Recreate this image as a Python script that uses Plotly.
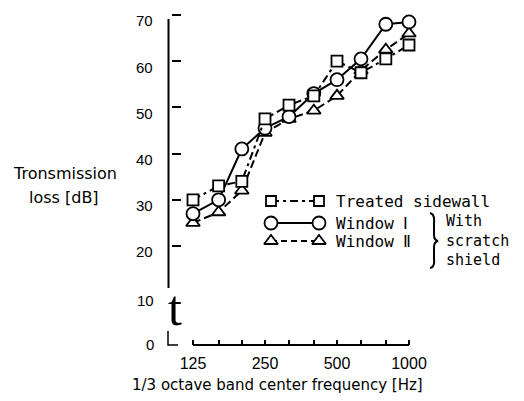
import plotly.graph_objects as go

# ---- data ----
freq = [125, 160, 200, 250, 315, 400, 500, 630, 800, 1000]
treated_sidewall = [30, 33, 34, 47.5, 50.5, 52.5, 60, 57.5, 60.5, 63.5]
window_1 = [27, 30, 41, 45.5, 48, 53, 56, 60.5, 68, 68.5]
window_2 = [25, 27.3, 32, 44.5, 47.5, 49.3, 52.5, 58, 62.5, 66]
x_tick_text = ["125", "", "", "250", "", "", "500", "", "", "1000"]
y_ticks = [20, 30, 40, 50, 60, 70]
y_break_labels = ["10", "0"]

W, H = 524, 401
PL, PR, PT, PB = 172, 420, 10, 345   # plot area in pixels

BLACK = "black"
TICKFONT = dict(family="Liberation Sans, Arial, sans-serif", size=15, color=BLACK)
XTICKFONT = dict(family="Liberation Sans, Arial, sans-serif", size=16, color=BLACK)
LEGFONT = dict(family="DejaVu Sans Mono, monospace", size=16, color=BLACK)
NOTEFONT = dict(family="DejaVu Sans Mono, monospace", size=15, color=BLACK)
TITLEFONT = dict(family="DejaVu Sans, sans-serif", size=16, color=BLACK)

fig = go.Figure()

def marker(sym, size):
    return dict(symbol=sym, size=size, color="white",
                line=dict(color=BLACK, width=1.8))

fig.add_trace(go.Scatter(x=freq, y=window_2, mode="lines+markers",
                         line=dict(color=BLACK, width=2, dash="8px,4px"),
                         marker=marker("triangle-up", 12), cliponaxis=False,
                         showlegend=False))
fig.add_trace(go.Scatter(x=freq, y=window_1, mode="lines+markers",
                         line=dict(color=BLACK, width=2),
                         marker=marker("circle", 13), cliponaxis=False,
                         showlegend=False))
fig.add_trace(go.Scatter(x=freq, y=treated_sidewall, mode="lines+markers",
                         line=dict(color=BLACK, width=2, dash="8px,4px,3px,4px"),
                         marker=marker("square", 11), cliponaxis=False,
                         showlegend=False))

# ---- legend samples drawn on a full-figure pixel overlay (x2/y2) ----
leg_rows = [
    ("square", 10, "8px,4px,3px,4px", 201),
    ("circle", 13, "solid", 223),
    ("triangle-up", 12, "6px,4px", 241),
]
for sym, sz, dash, yy in leg_rows:
    fig.add_trace(go.Scatter(x=[271, 319], y=[yy, yy], xaxis="x2", yaxis="y2",
                             mode="lines+markers",
                             line=dict(color=BLACK, width=2, dash=dash),
                             marker=marker(sym, sz), cliponaxis=False,
                             showlegend=False, hoverinfo="skip"))

annotations = []
for v in y_ticks:
    annotations.append(dict(x=155, xref="x2", y=v, yref="y", text=str(v),
                            xanchor="right", yanchor="middle", yshift=-6,
                            showarrow=False, font=TICKFONT))
for txt, yy in zip(y_break_labels, [300, 344]):
    annotations.append(dict(x=156, xref="x2", y=yy, yref="y2", text=txt,
                            xanchor="right", yanchor="middle",
                            showarrow=False, font=TICKFONT))

# axis break "t"
annotations.append(dict(x=175, xref="x2", y=308, yref="y2", text="t",
                        xanchor="center", yanchor="middle", showarrow=False,
                        font=dict(family="Liberation Serif, serif", size=50, color=BLACK)))

# legend texts
for txt, yy in [("Treated sidewall", 201), ("Window Ⅰ", 223), ("Window Ⅱ", 241)]:
    annotations.append(dict(x=334, xref="x2", y=yy, yref="y2", text=txt,
                            xanchor="left", yanchor="middle", showarrow=False,
                            font=LEGFONT))
annotations.append(dict(x=444, xref="x2", y=240, yref="y2",
                        text="With<br>scratch<br>shield",
                        xanchor="left", yanchor="middle", align="left",
                        showarrow=False, font=NOTEFONT))

# axis titles
annotations.append(dict(x=65, xref="x2", y=173, yref="y2", text="Tronsmission",
                        xanchor="center", yanchor="middle", showarrow=False, font=TITLEFONT))
annotations.append(dict(x=64, xref="x2", y=197, yref="y2", text="loss [dB]",
                        xanchor="center", yanchor="middle", showarrow=False, font=TITLEFONT))
annotations.append(dict(x=277, xref="x2", y=385, yref="y2",
                        text="1/3 octave band center frequency [Hz]",
                        xanchor="center", yanchor="middle", showarrow=False,
                        font=dict(family="DejaVu Sans, sans-serif", size=15, color=BLACK)))

shapes = [
    # y axis line (broken)
    dict(type="line", xref="x2", yref="y2", x0=168.5, x1=168.5, y0=19, y1=288,
         line=dict(color=BLACK, width=2)),
    # x axis line
    dict(type="line", xref="x", yref="y2", x0=freq[0], x1=freq[-1], y0=PB, y1=PB,
         line=dict(color=BLACK, width=2)),
    # small corner at the origin
    dict(type="path", xref="x2", yref="y2", path="M 168,331 L 168,345 L 178,345",
         line=dict(color=BLACK, width=1.5)),
    # thin curly brace grouping the two windows
    dict(type="path", xref="x2", yref="y2",
         path="M 430,213 Q 435,214 434,223 L 434,235 Q 434,240 438,241 "
              "Q 434,242 434,247 L 434,259 Q 435,267 430,268",
         line=dict(color=BLACK, width=2)),
]

fig.update_layout(
    width=W, height=H,
    margin=dict(l=0, r=0, t=0, b=0),
    paper_bgcolor="white", plot_bgcolor="rgba(0,0,0,0)",
    showlegend=False,
    xaxis=dict(type="log", range=[2.0091, 3.046], domain=[PL / W, PR / W],
               anchor="y", showgrid=False, zeroline=False,
               showline=False, ticks="inside", ticklen=5, tickwidth=1.5,
               tickcolor=BLACK, tickvals=freq, ticktext=x_tick_text,
               tickfont=XTICKFONT, ticklabelstandoff=7, automargin=False),
    yaxis=dict(range=[-1.43, 71.08], domain=[(H - PB) / H, (H - PT) / H],
               anchor="x", showgrid=False, zeroline=False, showline=False,
               ticks="inside", ticklen=9, tickwidth=2, tickcolor=BLACK,
               tickvals=y_ticks, showticklabels=False, automargin=False),
    xaxis2=dict(domain=[0, 1], range=[0, W], visible=False, anchor="y2"),
    yaxis2=dict(domain=[0, 1], range=[H, 0], visible=False, anchor="x2"),
    annotations=annotations,
    shapes=shapes,
)

fig.write_html("out.html", config={"displayModeBar": False},
               post_script="document.body.style.margin='0';")
